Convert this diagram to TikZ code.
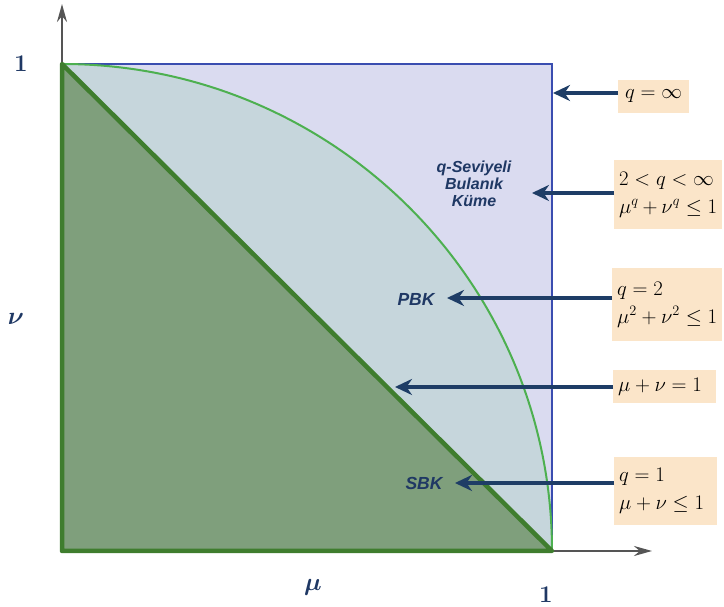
\documentclass[tikz,border=0pt]{standalone}
\usepackage{amsmath}
\usepackage{fontspec}
\usepackage{bm}
\newfontfamily\lsans{Liberation Sans}
\usetikzlibrary{arrows.meta}
\definecolor{lav}{HTML}{DADBF0}
\definecolor{discc}{HTML}{C6D6DC}
\definecolor{tric}{HTML}{7F9F7C}
\definecolor{gedge}{HTML}{3F7D2E}
\definecolor{garc}{HTML}{4DB050}
\definecolor{bborder}{HTML}{3A4DB0}
\definecolor{navy}{HTML}{1F3864}
\definecolor{peach}{HTML}{FBE5C9}
\definecolor{arrowc}{HTML}{1E3D66}
\definecolor{axisc}{HTML}{555555}
\tikzset{
  axisline/.style={draw=axisc,line width=2.2pt,-{Stealth[length=18pt,width=10pt]}},
  bigarrow/.style={draw=arrowc,line width=4pt,-{Stealth[length=17pt,width=16pt]}},
  qbox/.style={fill=peach,inner xsep=5pt,inner ysep=0pt,anchor=west,
    font=\fontsize{20}{28}\selectfont},
  inlabel/.style={text=navy,font=\lsans\bfseries\itshape\fontsize{17.5}{18}\selectfont,align=center},
  axlabel/.style={text=navy,font=\bfseries\fontsize{24}{26}\selectfont}
}
\begin{document}
\begin{tikzpicture}[x=1pt,y=1pt]
\useasboundingbox (0,0) rectangle (724,607);
\coordinate (O) at (62,56);
\coordinate (T) at (62,543);
\coordinate (R) at (552,56);
\coordinate (TR) at (552,543);
\coordinate (ytip) at (62,603);
\coordinate (xtip) at (652,56);
\draw[axisline] (O) -- (ytip);
\draw[axisline] (O) -- (xtip);
\fill[lav] (O) rectangle (TR);
\fill[discc] (O) -- (T) arc[start angle=90,end angle=0,x radius=490pt,y radius=487pt] -- cycle;
\fill[tric] (O) -- (T) -- (R) -- cycle;
\draw[bborder,line width=1.6pt] (T) -- (TR) -- (R);
\draw[garc,line width=2pt] (T) arc[start angle=90,end angle=0,x radius=490pt,y radius=487pt];
\draw[gedge,line width=4.5pt,line join=round] (R) -- (O) -- (T) -- cycle;

% axis labels
\node[axlabel] (one1) at (21,543) {1};
\node[axlabel] (one2) at (546,12) {1};
\node[text=navy,font=\fontsize{24}{26}\selectfont] (nu) at (16,288) {$\bm{\nu}$};
\node[text=navy,font=\fontsize{24}{26}\selectfont] (mu) at (313,20) {$\bm{\mu}$};

% inner labels
\node[inlabel,font=\lsans\bfseries\itshape\fontsize{16}{17}\selectfont] (qsl) at (474,423) {q-Seviyeli\\Bulanık\\Küme};
\node[inlabel] (pbk) at (416,308) {PBK};
\node[inlabel] (sbk) at (424,124) {SBK};

% boxes
\node[qbox,minimum width=71pt,minimum height=33pt,align=center] (b1) at (618,510.5) {$q=\infty$};
\node[qbox,minimum height=69pt,text width=98pt,align=left] (b2) at (614,412.5) {$2<q<\infty$\\$\mu^q+\nu^q\leq 1$};
\node[qbox,minimum height=73pt,text width=100pt,align=left] (b3) at (612,302.5) {$q=2$\\$\mu^2+\nu^2\leq 1$};
\node[qbox,minimum width=103pt,minimum height=33pt,text width=93pt,align=left] (b4) at (613,220.5) {$\mu+\nu=1$};
\node[qbox,minimum height=68pt,text width=93pt,align=left] (b5) at (614,116) {$q=1$\\$\mu+\nu\leq 1$};

% arrows
\coordinate (a1) at (553,514);
\coordinate (a2) at (532,414);
\coordinate (a3) at (447,309);
\coordinate (a4) at (395,220);
\coordinate (a5) at (455,124);
\draw[bigarrow] (b1.west |- a1) -- (a1);
\draw[bigarrow] (b2.west |- a2) -- (a2);
\draw[bigarrow] (b3.west |- a3) -- (a3);
\draw[bigarrow] (b4.west |- a4) -- (a4);
\draw[bigarrow] (b5.west |- a5) -- (a5);
\end{tikzpicture}
\end{document}
